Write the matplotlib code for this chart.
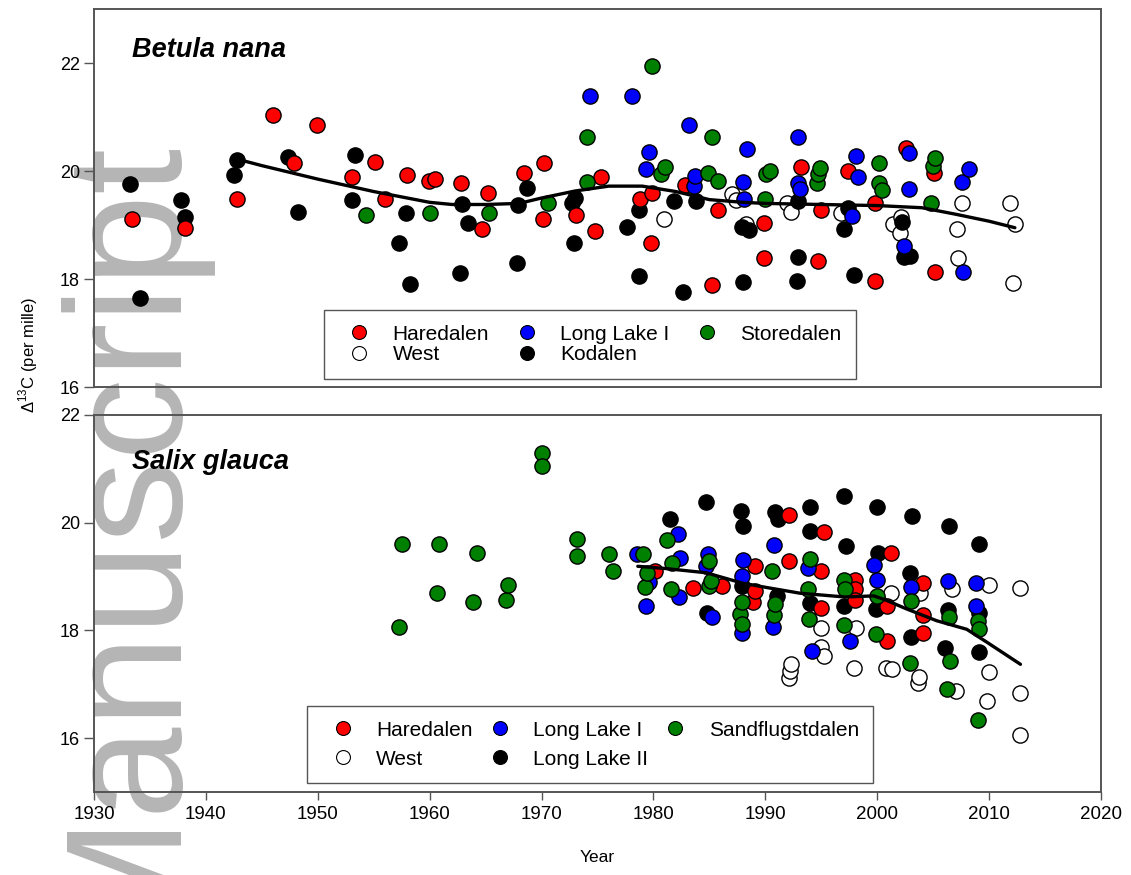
# Carbon isotope discrimination through time for two shrub species
import matplotlib.pyplot as plt
from matplotlib.lines import Line2D

plt.rcParams['font.family'] = ['Liberation Sans', 'DejaVu Sans']
plt.rcParams['mathtext.fontset'] = 'custom'
plt.rcParams['mathtext.rm'] = 'Liberation Sans'

# ---- Betula nana ----
bn_hare_x = [1933.4, 1938.1, 1942.8, 1946.0, 1947.9, 1949.9, 1953.1, 1955.1, 1956.0, 1958.0,
             1959.9, 1960.5, 1962.8, 1964.7, 1965.2, 1968.4, 1970.1, 1970.2, 1973.1, 1974.8,
             1975.3, 1978.8, 1979.8, 1979.9, 1982.8, 1985.2, 1985.8, 1989.9, 1989.9, 1993.2,
             1994.7, 1995.0, 1997.4, 1999.8, 1999.8, 2002.6, 2005.1, 2005.2]
bn_hare_y = [19.12, 18.95, 19.49, 21.03, 20.14, 20.85, 19.88, 20.17, 19.48, 19.93,
             19.81, 19.85, 19.78, 18.93, 19.59, 19.97, 19.12, 20.14, 19.18, 18.89,
             19.89, 19.49, 18.67, 19.59, 19.74, 17.88, 19.27, 19.04, 18.39, 20.08,
             18.33, 19.27, 20.00, 19.41, 17.96, 20.43, 19.96, 18.13]

bn_ll1_x = [1974.3, 1978.1, 1979.3, 1979.6, 1983.2, 1983.6, 1983.7, 1988.0, 1988.1, 1988.4,
            1992.9, 1992.9, 1993.1, 1997.7, 1998.1, 1998.3, 2002.4, 2002.8, 2002.8, 2007.6,
            2007.7, 2008.2]
bn_ll1_y = [21.39, 21.38, 20.03, 20.35, 20.85, 19.72, 19.91, 19.80, 19.49, 20.40,
            20.63, 19.78, 19.66, 19.17, 20.28, 19.89, 18.61, 20.34, 19.67, 19.80,
            18.13, 20.04]

bn_store_x = [1954.3, 1960.0, 1965.3, 1970.6, 1974.1, 1974.1, 1979.9, 1980.7, 1981.0, 1984.9,
              1985.2, 1985.8, 1990.0, 1990.1, 1990.4, 1994.6, 1994.7, 1994.9, 2000.2, 2000.2,
              2000.4, 2004.8, 2005.0, 2005.2]
bn_store_y = [19.18, 19.22, 19.23, 19.40, 20.63, 19.80, 21.94, 19.95, 20.08, 19.97,
              20.63, 19.81, 19.48, 19.94, 20.00, 19.78, 19.94, 20.06, 20.14, 19.78,
              19.64, 19.40, 20.09, 20.24]

bn_west_x = [1980.9, 1987.0, 1987.4, 1988.3, 1991.9, 1992.3, 1996.8, 2001.4, 2002.0, 2002.1,
             2007.1, 2007.2, 2007.6, 2011.9, 2012.1, 2012.3]
bn_west_y = [19.12, 19.57, 19.46, 19.02, 19.41, 19.25, 19.22, 19.02, 18.85, 19.15,
             18.93, 18.38, 19.40, 19.41, 17.93, 19.02]

bn_koda_x = [1933.2, 1934.1, 1937.8, 1938.1, 1942.5, 1942.8, 1947.3, 1948.2, 1953.1, 1953.3,
             1957.3, 1957.9, 1958.2, 1962.7, 1962.9, 1963.4, 1967.8, 1967.9, 1968.7, 1972.7,
             1973.0, 1972.9, 1977.6, 1978.7, 1978.7, 1981.8, 1982.6, 1983.8, 1987.9, 1988.5,
             1988.0, 1992.9, 1992.9, 1992.8, 1997.0, 1997.4, 1997.9, 2002.2, 2002.4, 2002.9]
bn_koda_y = [19.76, 17.64, 19.46, 19.15, 19.92, 20.20, 20.26, 19.24, 19.46, 20.30,
             18.67, 19.22, 17.90, 18.12, 19.38, 19.04, 18.29, 19.37, 19.68, 19.41,
             19.50, 18.67, 18.96, 19.27, 18.06, 19.44, 17.76, 19.44, 18.96, 18.90,
             17.94, 19.44, 18.41, 17.96, 18.92, 19.32, 18.07, 19.06, 18.41, 18.43]

bn_trend_x = [1942.8, 1945, 1950, 1955, 1960, 1962, 1965, 1968, 1970, 1973, 1976, 1979,
              1982, 1985, 1988, 1990, 1995, 2000, 2004, 2007, 2010, 2012.3]
bn_trend_y = [20.22, 20.10, 19.85, 19.62, 19.42, 19.38, 19.38, 19.40, 19.50, 19.63, 19.72, 19.72,
              19.62, 19.47, 19.42, 19.40, 19.38, 19.36, 19.32, 19.20, 19.07, 18.95]

# ---- Salix glauca ----
sg_hare_x = [1980.1, 1983.5, 1986.1, 1988.9, 1989.1, 1989.1, 1992.1, 1992.1, 1995.0, 1995.0,
             1995.2, 1998.0, 1998.0, 1998.0, 2000.9, 2000.9, 2001.2, 2004.1, 2004.1, 2004.1]
sg_hare_y = [19.10, 18.78, 18.82, 18.52, 19.20, 18.73, 20.15, 19.28, 19.10, 18.42,
             19.83, 18.94, 18.76, 18.57, 18.45, 17.80, 19.43, 18.88, 18.28, 17.96]

sg_ll1_x = [1978.5, 1979.3, 1979.6, 1982.2, 1982.3, 1982.4, 1984.7, 1984.9, 1985.2, 1987.9,
            1987.9, 1988.0, 1990.7, 1990.8, 1993.8, 1994.2, 1997.6, 1999.7, 2000.0, 2003.0,
            2006.3, 2008.8, 2008.8]
sg_ll1_y = [19.41, 18.46, 18.90, 19.78, 18.62, 19.35, 19.19, 19.41, 18.24, 19.01,
            17.96, 19.31, 18.06, 19.59, 19.16, 17.62, 17.80, 19.21, 18.94, 18.80,
            18.91, 18.88, 18.45]

sg_sand_x = [1957.3, 1957.5, 1960.7, 1960.8, 1963.9, 1964.2, 1966.8, 1967.0, 1970.0, 1970.0,
             1973.2, 1973.2, 1976.0, 1976.4, 1979.1, 1979.2, 1979.4, 1981.2, 1981.6, 1981.7,
             1985.0, 1985.0, 1985.1, 1987.7, 1987.9, 1987.9, 1990.6, 1990.8, 1990.9, 1993.8,
             1993.9, 1994.0, 1997.0, 1997.0, 1997.1, 1999.9, 2000.0, 2002.9, 2003.0, 2006.2,
             2006.4, 2006.5, 2009.0, 2009.0, 2009.1]
sg_sand_y = [18.07, 19.61, 18.70, 19.61, 18.53, 19.44, 18.57, 18.85, 21.30, 21.06,
             19.69, 19.38, 19.42, 19.11, 19.41, 18.80, 19.07, 19.67, 18.76, 19.25,
             19.28, 18.82, 18.91, 18.30, 18.52, 18.11, 19.10, 18.28, 18.49, 18.77,
             18.22, 19.33, 18.94, 18.10, 18.76, 17.93, 18.64, 17.40, 18.54, 16.92,
             18.25, 17.44, 16.34, 18.17, 18.02]

sg_west_x = [1992.1, 1992.2, 1992.3, 1995.0, 1995.0, 1995.2, 1997.9, 1998.1, 2000.8, 2001.2,
             2001.3, 2003.6, 2003.7, 2003.8, 2006.7, 2007.0, 2009.8, 2010.0, 2010.0, 2012.8,
             2012.8, 2012.8]
sg_west_y = [17.12, 17.25, 17.37, 18.05, 17.70, 17.52, 17.31, 18.05, 17.31, 18.69,
             17.29, 17.02, 17.14, 18.70, 18.76, 16.88, 16.68, 18.85, 17.23, 18.79,
             16.83, 16.06]

sg_ll2_x = [1981.5, 1984.7, 1984.8, 1987.8, 1987.9, 1988.0, 1990.9, 1991.0, 1991.1, 1994.0,
            1994.0, 1994.0, 1997.0, 1997.0, 1997.2, 1999.9, 2000.0, 2000.1, 2002.9, 2003.0,
            2003.1, 2006.1, 2006.3, 2006.4, 2009.1, 2009.1, 2009.1]
sg_ll2_y = [20.07, 20.38, 18.33, 20.21, 18.82, 19.93, 20.20, 18.64, 20.06, 20.29,
            19.84, 18.51, 20.50, 18.45, 19.56, 18.40, 20.29, 19.43, 19.07, 17.88,
            20.13, 17.68, 18.38, 19.93, 19.61, 18.33, 17.59]

sg_trend_x = [1978.6, 1981, 1984.7, 1987.9, 1990, 1993.1, 1997.1, 1999.7, 2000.8, 2002.6,
              2005.3, 2008.0, 2009.8, 2012.8]
sg_trend_y = [19.19, 19.15, 19.07, 18.88, 18.80, 18.69, 18.62, 18.64, 18.56, 18.40,
              18.18, 18.02, 17.78, 17.37]

red, blue, green = '#ff0000', '#0000ff', '#008000'

fig = plt.figure(figsize=(11.31, 8.75), dpi=100)

# grey watermark running up the left edge, behind both panels
fig.text(168 / 1131, 1 - 942 / 875, 'Manuscript', rotation=90, rotation_mode='anchor',
         ha='left', va='baseline', fontsize=119, color='#b5b5b5', zorder=-5)

ax1 = fig.add_axes([0.0831, 0.5577, 0.8904, 0.432])
ax2 = fig.add_axes([0.0831, 0.0949, 0.8904, 0.4309])


def draw_panel(ax, series, trend_x, trend_y):
    # series: list of (x, y, face colour, label); drawn in list order
    for xs, ys, fc, lab in series:
        ax.scatter(xs, ys, s=120, c=fc, edgecolors='black', linewidths=1.0,
                   zorder=3, label=lab)
    ax.plot(trend_x, trend_y, color='black', lw=2.4, zorder=4,
            solid_capstyle='round')
    ax.set_xlim(1930, 2020)
    ax.patch.set_facecolor('none')
    for sp in ax.spines.values():
        sp.set_color('#555555')
        sp.set_linewidth(1.4)
    ax.tick_params(axis='y', direction='out', length=7, width=1, color='#555555',
                   labelsize=13, pad=3)


draw_panel(ax1,
           [(bn_west_x, bn_west_y, 'white', 'West'),
            (bn_koda_x, bn_koda_y, 'black', 'Kodalen'),
            (bn_hare_x, bn_hare_y, red, 'Haredalen'),
            (bn_ll1_x, bn_ll1_y, blue, 'Long Lake I'),
            (bn_store_x, bn_store_y, green, 'Storedalen')],
           bn_trend_x, bn_trend_y)
ax1.set_ylim(16, 23)
ax1.set_yticks([16, 18, 20, 22])
ax1.tick_params(axis='x', bottom=False, labelbottom=False)
ax1.text(0.0377, 0.873, 'Betula nana', transform=ax1.transAxes, fontsize=19.5,
         fontweight='bold', fontstyle='italic', va='baseline')

draw_panel(ax2,
           [(sg_west_x, sg_west_y, 'white', 'West'),
            (sg_ll2_x, sg_ll2_y, 'black', 'Long Lake II'),
            (sg_hare_x, sg_hare_y, red, 'Haredalen'),
            (sg_ll1_x, sg_ll1_y, blue, 'Long Lake I'),
            (sg_sand_x, sg_sand_y, green, 'Sandflugstdalen')],
           sg_trend_x, sg_trend_y)
ax2.set_ylim(15, 22)
ax2.set_yticks([16, 18, 20, 22])
ax2.set_xticks(range(1930, 2021, 10))
ax2.tick_params(axis='x', direction='out', length=6, width=1, color='#555555',
                labelsize=13.5, pad=4)
ax2.text(0.0377, 0.857, 'Salix glauca', transform=ax2.transAxes, fontsize=19.5,
         fontweight='bold', fontstyle='italic', va='baseline')


def site_handle(fc, lab):
    return Line2D([], [], ls='none', marker='o', markersize=10, markerfacecolor=fc,
                  markeredgecolor='black', markeredgewidth=0.8, label=lab)


# legends fill column by column, so pass entries column-wise
leg1 = [site_handle(red, 'Haredalen'), site_handle('white', 'West'),
        site_handle(blue, 'Long Lake I'), site_handle('black', 'Kodalen'),
        site_handle(green, 'Storedalen')]
ax1.legend(handles=leg1, ncol=3, loc='upper left', bbox_to_anchor=(0.2284, 0.2037),
           borderaxespad=0, fontsize=15, frameon=True, fancybox=False,
           edgecolor='#555555', framealpha=1, labelspacing=0.09, handlelength=2.0,
           handletextpad=0.6, columnspacing=0.8, borderpad=0.7)

leg2 = [site_handle(red, 'Haredalen'), site_handle('white', 'West'),
        site_handle(blue, 'Long Lake I'), site_handle('black', 'Long Lake II'),
        site_handle(green, 'Sandflugstdalen')]
ax2.legend(handles=leg2, ncol=3, loc='upper left', bbox_to_anchor=(0.212, 0.228),
           borderaxespad=0, fontsize=15, frameon=True, fancybox=False,
           edgecolor='#555555', framealpha=1, labelspacing=0.48, handlelength=2.0,
           handletextpad=0.6, columnspacing=0.3, borderpad=0.7)

fig.text(28 / 1131, 1 - 355 / 875, r'$\Delta^{13}$C (per mille)', rotation=90,
         ha='center', va='center', fontsize=12)
fig.text(597 / 1131, 1 - 858 / 875, 'Year', ha='center', va='center', fontsize=12.5)

fig.savefig('out.png', dpi=100)
